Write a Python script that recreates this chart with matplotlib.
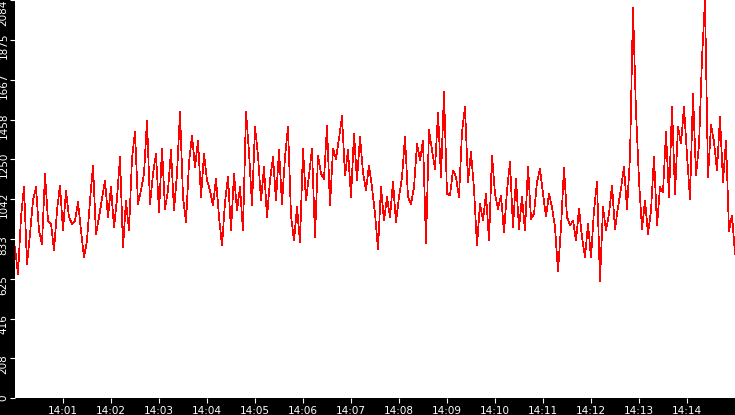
import numpy as np
import matplotlib
matplotlib.use("Agg")
import matplotlib.pyplot as plt
import matplotlib.transforms as mtransforms

# readings, one every 3.75 s from 14:00:00 to 14:15:00
seg1 = [789, 649, 947, 1104, 702, 859, 1034, 1104, 877, 807,
        1174, 929, 912, 772, 982, 1113, 877, 1087, 947, 912,
        929, 1025, 877, 737, 824, 1034, 1218, 859, 947, 1043,
        1139, 947, 1104, 894, 1043, 1262, 789, 1034, 877, 1253]
seg2 = [1393, 1017, 1087, 1174, 1454, 1017, 1174, 1279, 973, 1305,
        990, 1087, 1297, 982, 1174, 1498, 1052, 920, 1235, 1375,
        1209, 1349, 1052, 1279, 1139, 1087, 1008, 1148, 947, 798,
        1025, 1157, 877, 1174, 982, 1104, 877, 1498, 1288, 1008]
seg3 = [1419, 1270, 1034, 1209, 947, 1139, 1262, 1034, 1297, 1017,
        1262, 1419, 955, 824, 999, 815, 1305, 1034, 1165, 1305,
        842, 1270, 1174, 1148, 1423, 1008, 1305, 1253, 1358, 1475,
        1165, 1297, 1052, 1384, 1139, 1367, 1183, 1087, 1218, 1104]
seg4 = [964, 781, 1104, 929, 1052, 947, 1131, 921, 1052, 1157,
        1367, 1052, 1017, 1104, 1332, 1244, 1349, 812, 1402, 1297,
        1200, 1493, 1157, 1603, 1069, 1061, 1192, 1157, 1052, 1393,
        1524, 1131, 1288, 1096, 798, 1017, 929, 1069, 824, 1270]
seg5 = [1069, 991, 1061, 868, 1087, 1236, 894, 1148, 886, 1052,
        877, 1213, 938, 964, 1131, 1200, 1069, 950, 1069, 999,
        894, 663, 894, 1206, 947, 903, 929, 824, 991, 842,
        737, 912, 737, 982, 1131, 614, 999, 877, 964, 1113]
seg6 = [885, 999, 1096, 1209, 991, 1262, 2041, 1498, 1139, 885,
        1034, 859, 982, 1262, 903, 1104, 1078, 1393, 1052, 1524,
        1069, 1419, 1332, 1524, 1270, 1043, 1594, 1165, 1323, 1778,
        2084, 1157, 1428, 1341, 1192, 1472, 1131, 1349, 876, 955,
        754]

x_labels = ["14:01", "14:02", "14:03", "14:04", "14:05", "14:06", "14:07",
            "14:08", "14:09", "14:10", "14:11", "14:12", "14:13", "14:14"]
y_ticks = [0, 208, 416, 625, 833, 1042, 1250, 1458, 1667, 1875, 2084]
y_labels = [str(v) for v in y_ticks]

values = seg1 + seg2 + seg3 + seg4 + seg5 + seg6
seconds = np.arange(len(values)) * 3.75

fig = plt.figure(figsize=(7.35, 4.15), dpi=100, facecolor="black")
ax = fig.add_axes([15 / 735, 17 / 415, 720 / 735, 398 / 415])
ax.set_facecolor("white")

ax.plot(seconds, values, color="red", lw=0.5, antialiased=False)

ax.set_xlim(0, 900)
ax.set_ylim(0, 2084)
ax.set_xticks([60 * (i + 1) for i in range(len(x_labels))], x_labels)
ax.set_yticks(y_ticks, y_labels, rotation=90)
ax.tick_params(colors="white", length=3.6, width=0.8, labelsize=7.5, pad=1)
ax.tick_params(axis="x", pad=2)
for s in ax.spines.values():
    s.set_visible(False)

# y labels sit a little below their ticks
for lbl, v in zip(ax.get_yticklabels(), y_ticks):
    shift = -6
    if v == 0:
        shift = 0
    elif v == 2084:
        shift = -13
    lbl.set_va("center")
    lbl.set_transform(lbl.get_transform() +
                      mtransforms.ScaledTranslation(0, shift / 100, fig.dpi_scale_trans))

fig.savefig("out.png", dpi=100, facecolor="black")
